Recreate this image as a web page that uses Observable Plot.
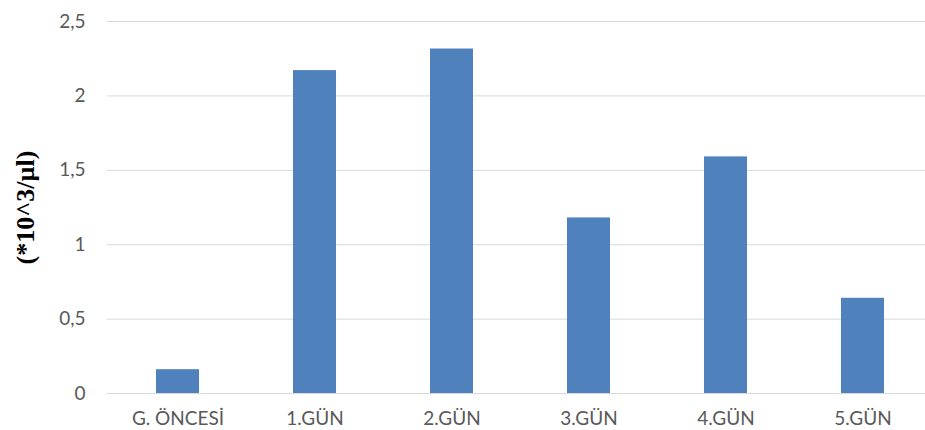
<!DOCTYPE html>
<html>
<head>
<meta charset="utf-8">
<script src="https://cdn.jsdelivr.net/npm/d3@7"></script>
<script src="https://cdn.jsdelivr.net/npm/@observablehq/plot@0.6"></script>
<style>
  html, body { margin: 0; padding: 0; background: #fff; overflow: hidden; }
  #chart { width: 925px; height: 430px; overflow: hidden; position: relative; }
</style>
</head>
<body>
<div id="chart"></div>
<script>
const categories = ["G. ÖNCESİ", "1.GÜN", "2.GÜN", "3.GÜN", "4.GÜN", "5.GÜN"];
const values = [0.16, 2.17, 2.315, 1.18, 1.59, 0.64];
const yTicks = [0, 0.5, 1, 1.5, 2, 2.5];
const yLabel = "(*10^3/µl)";

const data = categories.map((c, i) => ({category: c, value: values[i]}));
const fmt = v => String(v).replace(".", ",");

const chart = Plot.plot({
  width: 925,
  height: 430,
  marginTop: 21,
  marginBottom: 37,
  marginLeft: 107,
  marginRight: -8,
  style: {fontFamily: "Lato, 'Open Sans', sans-serif", fontSize: "19px", color: "#595959", background: "#fff", overflow: "hidden"},
  x: {domain: categories, paddingInner: 0.687, paddingOuter: 0.3435, align: 0.5, label: null},
  y: {domain: [0, 2.5], label: null},
  marks: [
    Plot.gridY(yTicks, {stroke: "#d9d9d9", strokeOpacity: 1, strokeWidth: 1}),
    Plot.barY(data, {x: "category", y: "value", fill: "#4f81bd"}),
    Plot.axisY(yTicks, {tickSize: 0, tickPadding: 22, tickFormat: fmt, fill: "#595959", fontSize: 19, label: null}),
    Plot.axisX({tickSize: 0, tickPadding: 18, fill: "#595959", fontSize: 19, label: null}),
    Plot.text([yLabel], {
      frameAnchor: "left", textAnchor: "middle", dx: -82, dy: 0, rotate: -90, text: d => d,
      fontFamily: "'Liberation Serif', 'Times New Roman', serif", fontWeight: "bold", fontSize: 26, fill: "#000"
    })
  ]
});
document.getElementById("chart").appendChild(chart);
</script>
</body>
</html>
